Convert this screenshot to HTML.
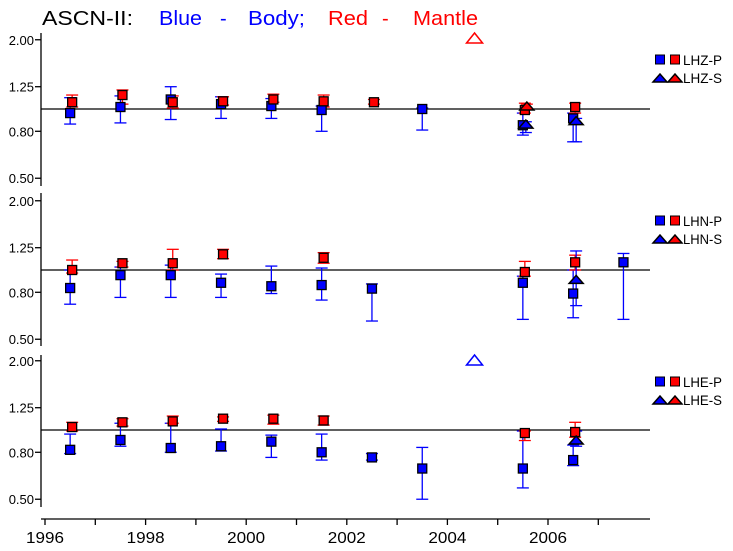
<!DOCTYPE html>
<html><head><meta charset="utf-8"><style>
body{margin:0;background:#fff}
svg{display:block;font-family:"Liberation Sans",sans-serif}
</style></head><body>
<svg id="c" width="733" height="551">
<g font-size="20">
<text x="42" y="25" fill="#000" textLength="91" lengthAdjust="spacingAndGlyphs">ASCN-II:</text>
<text x="159" y="25" fill="#00f" textLength="43" lengthAdjust="spacingAndGlyphs">Blue</text>
<text x="220" y="25" fill="#00f">-</text>
<text x="248" y="25" fill="#00f" textLength="57" lengthAdjust="spacingAndGlyphs">Body;</text>
<text x="328" y="25" fill="#f00" textLength="40" lengthAdjust="spacingAndGlyphs">Red</text>
<text x="382" y="25" fill="#f00">-</text>
<text x="413" y="25" fill="#f00" textLength="65" lengthAdjust="spacingAndGlyphs">Mantle</text>
</g>
</svg>
<script>
const years=[1996.5,1997.5,1998.5,1999.5,2000.5,2001.5,2002.5,2003.5,2005.5,2006.5,2007.5];
const yTicks=[0.5,0.8,1.25,2.0];
const yTickLabels=["0.50","0.80","1.25","2.00"];
const xTickYears=[1996,1997,1998,1999,2000,2001,2002,2003,2004,2005,2006,2007];
const xLabelYears=[1996,1998,2000,2002,2004,2006];
const panelNames=["LHZ","LHN","LHE"];
// [value, low, high] per year (null = absent)
const zBodyP=[[0.96,0.86,1.12],[1.02,0.87,1.14],[1.10,0.90,1.25],[1.05,0.91,1.13],[1.03,0.91,1.11],[0.99,0.80,1.03],null,[1.00,0.81,1.01],[0.85,0.77,0.96],[0.91,0.72,0.96],null];
const zMantleP=[[1.07,1.02,1.15],[1.15,1.05,1.21],[1.07,1.01,1.14],[1.08,1.04,1.13],[1.10,1.07,1.16],[1.08,1.02,1.15],[1.07,1.05,1.10],null,[0.99,0.96,1.06],[1.02,0.96,1.06],null];
const zBodyS=[null,null,null,null,null,null,null,null,[0.86,0.79,0.88],[0.89,0.72,0.91],null];
const zMantleS=[null,null,null,null,null,null,null,null,[1.03,1.00,1.05],null,null];
const nBodyP=[[0.835,0.71,1.0],[0.95,0.76,1.03],[0.95,0.76,1.05],[0.88,0.76,0.96],[0.85,0.79,1.04],[0.86,0.74,1.02],[0.83,0.60,0.87],null,[0.88,0.61,0.94],[0.79,0.62,1.0],[1.08,0.61,1.18]];
const nMantleP=[[1.0,0.97,1.105],[1.07,1.03,1.09],[1.07,1.0,1.23],[1.17,1.12,1.23],null,[1.13,1.07,1.19],null,null,[0.98,0.94,1.09],[1.08,1.0,1.16],null];
const nBodyS=[null,null,null,null,null,null,null,null,null,[0.91,0.70,1.21],null];
const nMantleS=[null,null,null,null,null,null,null,null,null,null,null];
const eBodyP=[[0.82,0.79,0.96],[0.905,0.85,1.07],[0.835,0.80,1.07],[0.85,0.81,1.01],[0.89,0.76,0.95],[0.80,0.74,0.96],[0.76,0.74,0.79],[0.68,0.50,0.84],[0.68,0.56,0.99],[0.74,0.70,0.86],null];
const eMantleP=[[1.03,0.99,1.08],[1.08,1.04,1.12],[1.09,1.07,1.15],[1.12,1.09,1.14],[1.12,1.06,1.16],[1.10,1.05,1.15],null,null,[0.97,0.90,0.99],[0.98,0.93,1.08],null];
const eBodyS=[null,null,null,null,null,null,null,null,null,[0.905,0.85,0.99],null];
const eMantleS=[null,null,null,null,null,null,null,null,null,null,null];
// clipped (off-scale) S points: [panel, year]
const clippedYears=[[0,2004.5],[2,2004.5]];
const clippedColors=[["#f00","#00f"],["#00f","#00f"]];

const NS="http://www.w3.org/2000/svg";
const svg=document.getElementById('c');
function mk(t,a,p){const e=document.createElementNS(NS,t);for(const k in a)e.setAttribute(k,a[k]);(p||svg).appendChild(e);return e;}
const x=yr=>45+(yr-1996)*50.3;
const refs=[109,270,430];
const tops=[33,193,355],bots=[186,346,507];
const yF=(p,v)=>refs[p]-230*Math.log10(v);
const panels=[[zBodyP,zMantleP,zBodyS,zMantleS],[nBodyP,nMantleP,nBodyS,nMantleS],[eBodyP,eMantleP,eBodyS,eMantleS]];

function err(g,cx,p,d,col){
  const y1=yF(p,d[1]),y2=yF(p,d[2]);
  const l=mk('line',{x1:cx,x2:cx,y1:y1,y2:y2,stroke:col,'stroke-width':1.3},g);
  
  
  [y1,y2].forEach(yy=>{const c=mk('line',{x1:cx-6,x2:cx+6,y1:yy,y2:yy,stroke:col,'stroke-width':1.3},g);
    
    });
}
function sq(g,cx,cy,col){const r=mk('rect',{x:cx-4.5,y:cy-4.5,width:9,height:9,fill:col,stroke:'#000','stroke-width':1.3},g);
  
  }
function tri(g,cx,cy,col,open){const w=open?8:7,h=open?5:4;
  const t=mk('polygon',{points:`${cx-w},${cy+h} ${cx},${cy-h} ${cx+w},${cy+h}`,fill:open?'none':col,stroke:open?col:'#000','stroke-width':1.5},g);
  
  }

for(let p=0;p<3;p++){
  const g=mk('g',{});
  
  
  const ax=mk('line',{x1:41,x2:41,y1:tops[p],y2:bots[p],stroke:'#000','stroke-width':1.3},g);
  
  
  yTicks.forEach((v,i)=>{const yy=yF(p,v);
    const t=mk('line',{x1:35,x2:41,y1:yy,y2:yy,stroke:'#000','stroke-width':1.3},g);
    
    
    const tx=mk('text',{x:34,y:yy+5,'text-anchor':'end','font-size':13,fill:'#000'},g);
    tx.textContent=yTickLabels[i];
    
    });
  const rl=mk('line',{x1:41,x2:650,y1:yF(p,1),y2:yF(p,1),stroke:'#000','stroke-width':1.3},g);
  
  
  const [bP,mP,bS,mS]=panels[p];
  years.forEach((yr,i)=>{const cx=x(yr);
    if(bP[i])err(g,cx,p,bP[i],'#00f');
    if(mP[i])err(g,cx+2,p,mP[i],'#f00');
    if(bS[i])err(g,cx+3,p,bS[i],'#00f');
    if(mS[i])err(g,cx+4,p,mS[i],'#f00');});
  years.forEach((yr,i)=>{const cx=x(yr);
    if(bP[i])sq(g,cx,yF(p,bP[i][0]),'#00f');
    if(mP[i])sq(g,cx+2,yF(p,mP[i][0]),'#f00');
    if(bS[i])tri(g,cx+3,yF(p,bS[i][0]),'#00f');
    if(mS[i])tri(g,cx+4,yF(p,mS[i][0]),'#f00');});
  // legend
  const lg=mk('g',{},g);
  
  
  const ly=[60,221,382][p];
  const lr1=mk('rect',{x:655.5,y:ly-5,width:9,height:9,fill:'#00f',stroke:'#000'},lg);
  
  const lr2=mk('rect',{x:670.5,y:ly-5,width:9,height:9,fill:'#f00',stroke:'#000'},lg);
  
  const t1=mk('text',{x:683,y:ly+5,'font-size':14,fill:'#000',textLength:39,lengthAdjust:'spacingAndGlyphs'},lg);t1.textContent=panelNames[p]+'-P';
  
  const l2=ly+18;
  tri(lg,660,l2,'#00f');tri(lg,675,l2,'#f00');
  const t2=mk('text',{x:683,y:l2+5,'font-size':14,fill:'#000',textLength:39,lengthAdjust:'spacingAndGlyphs'},lg);t2.textContent=panelNames[p]+'-S';
  
}
clippedYears.forEach((c,i)=>{const cx=x(c[1]),cy=tops[c[0]]+5;
  tri(svg,cx+2,cy,clippedColors[i][0],true);});
// x axis
const xa=mk('line',{x1:41,x2:650,y1:519,y2:519,stroke:'#000','stroke-width':1.3});


xTickYears.forEach(yr=>{const t=mk('line',{x1:x(yr),x2:x(yr),y1:519,y2:525,stroke:'#000','stroke-width':1.3});
  
  });
xLabelYears.forEach(yr=>{const t=mk('text',{x:x(yr),y:543,'text-anchor':'middle','font-size':16,fill:'#000',textLength:38,lengthAdjust:'spacingAndGlyphs'});
  t.textContent=yr;
  
  });
</script>
</body></html>
